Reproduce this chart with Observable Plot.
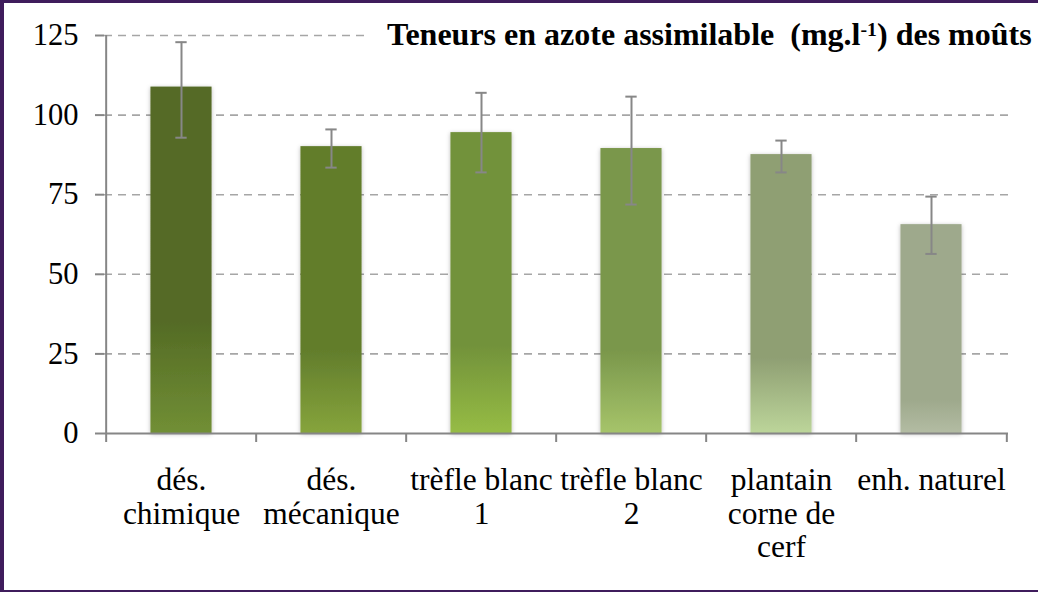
<!DOCTYPE html>
<html>
<head>
<meta charset="utf-8">
<script src="https://cdn.jsdelivr.net/npm/d3@7"></script>
<script src="https://cdn.jsdelivr.net/npm/@observablehq/plot@0.6"></script>
<style>
  html, body { margin: 0; padding: 0; background: white; overflow: hidden; }
  #wrap { position: relative; width: 1038px; height: 592px; background: white; overflow: hidden; }
  #chart svg { position: absolute; left: 0; top: 0; }
  #title {
    position: absolute; left: 368px; top: 19px; padding-left: 19px; padding-right: 4px;
    background: white; font-weight: bold; font-size: 32px; line-height: 30px; color: #000; white-space: nowrap;
  }
  #title sup { font-size: 0.62em; vertical-align: 0.45em; line-height: 0; }
  #border {
    position: absolute; left: 0; top: 0; width: 1038px; height: 592px; box-sizing: border-box;
    border-top: 3px solid #3f1c5c; border-left: 4px solid #3f1c5c; border-bottom: 2px solid #3f1c5c;
    pointer-events: none;
  }
</style>
</head>
<body>
<div id="wrap">
  <div id="chart"></div>
  <div id="title">Teneurs en azote assimilable&nbsp; (mg.l<sup>-1</sup>) des moûts</div>
  <div id="border"></div>
</div>
<script>
// ---- data ----
const categories = ["dés. chimique", "dés. mécanique", "trèfle blanc 1", "trèfle blanc 2", "plantain corne de cerf", "enh. naturel"];
const tickLabels = ["dés.\nchimique", "dés.\nmécanique", "trèfle blanc\n1", "trèfle blanc\n2", "plantain\ncorne de\ncerf", "enh. naturel"];
const values  = [108.8, 90.1, 94.5, 89.5, 87.6, 65.6];
const errLow  = [92.9, 83.5, 82.0, 71.9, 82.0, 56.4];
const errHigh = [122.9, 95.5, 107.0, 105.8, 92.0, 74.4];
const yTicks  = [0, 25, 50, 75, 100, 125];

// ---- style ----
const topColors    = ["#546b25", "#627d2c", "#72923a", "#7a974b", "#8f9f73", "#9ea98c"];
const bottomColors = ["#718f35", "#86a43c", "#96bc45", "#a6c46a", "#bcd59a", "#b3bca3"];
const gradStart    = [0.68, 0.71, 0.71, 0.71, 0.73, 0.84];

const W = 1038, H = 592, mL = 104, mR = 30, mT = 35, mB = 159;
const step = (W - mL - mR) / categories.length;
const barInset = step * (1 - 0.41) / 2;
const capInset = (step - 12) / 2;
const axisColor = "#868686";
const font = '"Liberation Serif"';
document.getElementById("title").style.fontFamily = font;

const data = categories.map((c, i) => ({
  cat: c, label: tickLabels[i], value: values[i], lo: errLow[i], hi: errHigh[i], grad: `url(#grad${i})`
}));

const svg = Plot.plot({
  width: W, height: H,
  marginLeft: mL, marginRight: mR, marginTop: mT, marginBottom: mB,
  style: { fontFamily: font, fontSize: "30px", background: "transparent", color: "#000", overflow: "visible" },
  x: { domain: categories, padding: 0, axis: null },
  y: { domain: [0, 125], axis: null },
  color: { type: "identity" },
  marks: [
    Plot.ruleY(yTicks.filter(t => t > 0), { stroke: "#a6a6a6", strokeWidth: 1.6, strokeDasharray: "8,6" }),
    Plot.barY(data, { x: "cat", y: "value", fill: "grad", insetLeft: barInset, insetRight: barInset }),
    Plot.ruleX(data, { x: "cat", y1: "lo", y2: "hi", stroke: "#878787", strokeWidth: 2 }),
    Plot.tickY(data, { x: "cat", y: "lo", stroke: "#878787", strokeWidth: 2, insetLeft: capInset, insetRight: capInset }),
    Plot.tickY(data, { x: "cat", y: "hi", stroke: "#878787", strokeWidth: 2, insetLeft: capInset, insetRight: capInset }),
    Plot.ruleX([categories[0]], { dx: -step / 2, y1: yTicks[0], y2: yTicks[yTicks.length - 1], stroke: axisColor, strokeWidth: 2 }),
    Plot.ruleY([0], { stroke: axisColor, strokeWidth: 2 }),
    Plot.ruleX(categories, { x: d => d, dx: -step / 2, y1: 0, y2: 0, insetBottom: -9, stroke: axisColor, strokeWidth: 2 }),
    Plot.ruleX([categories[categories.length - 1]], { dx: step / 2, y1: 0, y2: 0, insetBottom: -9, stroke: axisColor, strokeWidth: 2 }),
    Plot.axisY(yTicks, { tickSize: 9, tickPadding: 17, stroke: axisColor, strokeWidth: 2, fill: "#000", fontSize: 30.5, fontFamily: font, label: null }),
    Plot.text(data, { x: "cat", y: 0, text: "label", lineAnchor: "top", dy: 33, lineHeight: 1.06, fontSize: 31.5, fontFamily: font, fill: "#000" })
  ]
});

const s = d3.select(svg);
s.style("font-family", font);
const defs = s.insert("defs", ":first-child");
categories.forEach((c, i) => {
  const g = defs.append("linearGradient").attr("id", `grad${i}`).attr("x1", 0).attr("y1", 0).attr("x2", 0).attr("y2", 1);
  g.append("stop").attr("offset", 0).attr("stop-color", topColors[i]);
  g.append("stop").attr("offset", gradStart[i]).attr("stop-color", topColors[i]);
  g.append("stop").attr("offset", 1).attr("stop-color", bottomColors[i]);
});
const f = defs.append("filter").attr("id", "shadow").attr("x", "-30%").attr("y", "-10%").attr("width", "160%").attr("height", "120%");
f.append("feDropShadow").attr("dx", 0).attr("dy", 1).attr("stdDeviation", 2.2).attr("flood-color", "#000").attr("flood-opacity", 0.28);
s.select('g[aria-label="bar"]').attr("filter", "url(#shadow)");

document.getElementById("chart").appendChild(svg);
</script>
</body>
</html>
